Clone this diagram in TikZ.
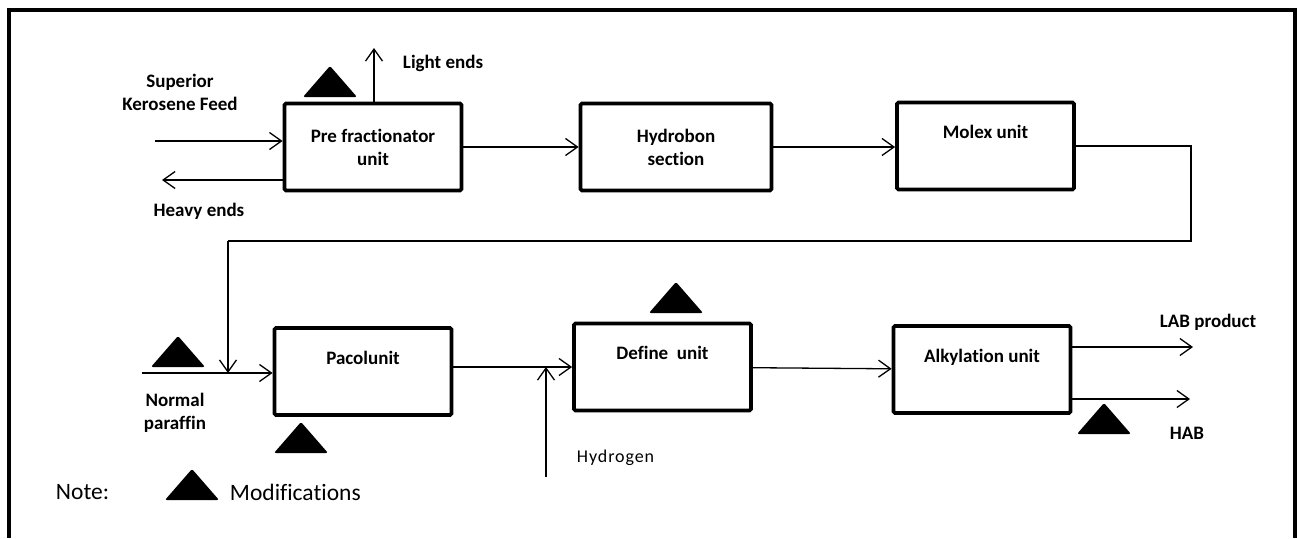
\documentclass[tikz,border=0pt]{standalone}
\usepackage{fontspec}
\setmainfont{Carlito}[Ligatures=NoCommon]
\newfontfamily\spacedfont[LetterSpace=5, Ligatures=NoCommon]{Carlito}
\usetikzlibrary{arrows.meta}

\tikzset{
	unit/.style={draw, line width=3.8pt, rounded corners=1.5pt, align=center, minimum width=177pt, minimum height=87pt},
	toptext/.style={text height=13pt, text depth=27.8pt},
}

\begin{document}
\begin{tikzpicture}[x=1pt, y=-1pt, line width=1.3pt, align=center,
		>={Straight Barb[length=12pt,width=17pt]},
		font=\bfseries\fontsize{19}{23}\selectfont]
		\useasboundingbox (0,0) rectangle (1297,538);
		%frame, open at the bottom
		\draw[line width=4pt] (8.5,538) -- (8.5,10) -- (1295,10) -- (1295,538);
		
		%process units
		\node[unit] (pre) at (373,147) {Pre fractionator\\unit};
		\node[unit, minimum width=191pt] (hydro) at (676,147) {Hydrobon\\section};
		\node[unit, toptext] (molex) at (985.5,146) {Molex unit};
		\node[unit, toptext] (pacol) at (363,371.5) {Pacolunit};
		\node[unit, toptext] (define) at (662.5,367) {Define\ \ unit};
		\node[unit, toptext] (alky) at (982,369.5) {Alkylation unit};
		
		%feed and side streams
		\coordinate (feed) at (155,141);
		\coordinate (heavy) at (162,180);
		\coordinate (light) at (374,48);
		\draw[->] (feed) -- (feed -| pre.west);
		\draw[->] (heavy -| pre.west) -- (heavy);
		\draw[->] (light |- pre.north) -- (light);
		\draw[->] (pre) -- (hydro);
		\draw[->] (hydro.east) -- (hydro.east -| molex.west);
		
		%molex product back to pacol
		\coordinate (loopA) at (1191,146);
		\coordinate (loopB) at (1191,241);
		\coordinate (loopC) at (228,241);
		\coordinate (paraffin) at (142,373);
		\draw (molex.east) -- (loopA) -- (loopB) -- (loopC);
		\draw[->] (loopC) -- (loopC |- paraffin);
		\draw[->] (paraffin) -- (paraffin -| pacol.west);
		
		\draw[->] (define.west -| pacol.east) -- (define.west);
		\coordinate (hydrogen) at (546,477);
		\draw[->] (hydrogen) -- (hydrogen |- define.west);
		\draw[->] (define) -- (alky);
		
		\coordinate (lab) at (1193,347);
		\coordinate (hab) at (1190,399);
		\draw[->] (lab -| alky.east) -- (lab);
		\draw[->] (hab -| alky.east) -- (hab);
		
		%stream labels
		\node (feedtxt) at (180,92.5) {Superior\\Kerosene Feed};
		\node (heavytxt) at (199,211) {Heavy ends};
		\node[anchor=west] (lighttxt) at (399,63) {Light ends};
		\node (paraffintxt) at (175,413) {Normal\\paraffin};
		\node[anchor=west, font=\spacedfont\fontsize{18}{22}\selectfont] (hydrogentxt) at (573,458) {Hydrogen};
		\node (labtxt) at (1208,322) {LAB product};
		\node (habtxt) at (1187,433) {HAB};
		
		%modification marks
		\foreach \x/\y in {330/97, 178/367, 301/453, 676/313, 1104/434, 192/500}
			\fill[rounded corners=2pt] (\x-27,\y) -- (\x,\y-31) -- (\x+27,\y) -- cycle;
		
		\node[anchor=west, font=\fontsize{23.5}{28}\selectfont] (note) at (52,492) {Note:};
		\node[anchor=west, font=\fontsize{23.5}{28}\selectfont] (modtxt) at (226,492) {Modifications};
\end{tikzpicture}
\end{document}
